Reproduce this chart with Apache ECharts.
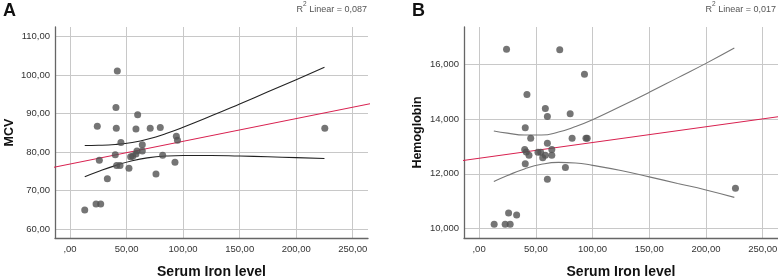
<!DOCTYPE html>
<html>
<head>
<meta charset="utf-8">
<script src="https://cdn.jsdelivr.net/npm/echarts@6/dist/echarts.min.js"></script>
<style>
  html, body { margin: 0; padding: 0; background: #fff; }
  #chart { width: 778px; height: 277px; }
</style>
</head>
<body>
<div id="chart"></div>
<script>
// Panel A: Serum iron vs MCV
const ironA = [41.8, 40.6, 59.8, 24.1, 40.9, 58.3, 70.9, 79.8, 225.3, 94.0, 95.0, 45.0, 63.9, 40.0, 25.9,
               53.6, 55.4, 58.3, 59.2, 63.9, 41.2, 44.2, 52.1, 33.0, 76.0, 81.9, 92.8, 13.0, 23.0, 27.1];
const mcv = [101.1, 91.6, 89.7, 86.7, 86.2, 86.0, 86.2, 86.4, 86.2, 84.1, 83.1, 82.5, 81.9, 79.3, 77.9,
             78.8, 78.9, 79.5, 80.3, 80.3, 76.5, 76.5, 75.8, 73.1, 74.3, 79.2, 77.4, 64.95, 66.5, 66.5];

// Panel B: Serum iron vs Hemoglobin
const ironB = [24.2, 71.1, 92.9, 42.2, 58.4, 60.2, 80.3, 40.7, 45.5, 82.0, 94.2, 95.3, 60.2, 40.2, 41.6, 44.0,
               51.9, 54.3, 64.1, 64.1, 58.4, 56.1, 40.7, 76.1, 60.2, 226.0, 26.0, 33.1, 13.3, 23.0, 27.4];
const hgb = [16.56, 16.54, 15.64, 14.9, 14.39, 14.1, 14.2, 13.69, 13.3, 13.3, 13.3, 13.3, 13.12, 12.89, 12.8, 12.68,
             12.79, 12.79, 12.89, 12.68, 12.68, 12.59, 12.37, 12.23, 11.8, 11.47, 10.57, 10.5, 10.16, 10.16, 10.16];

// fit lines (end points) and mean confidence bands
const fitX = [-20, 270];
const fitA = [75.72, 92.83];
const fitB = [12.455, 14.128];

const bandX = [13, 25, 40, 55, 70, 85, 100, 125, 150, 175, 200, 225];
const upperA = [81.73, 81.78, 82.0, 82.52, 83.48, 84.85, 86.46, 89.42, 92.51, 95.66, 98.83, 102.03];
const lowerA = [73.61, 74.98, 76.5, 77.78, 78.58, 78.99, 79.14, 79.14, 78.99, 78.8, 78.57, 78.33];
const upperB = [13.57, 13.49, 13.42, 13.42, 13.53, 13.73, 13.98, 14.47, 14.98, 15.51, 16.04, 16.60];
const lowerB = [11.72, 11.94, 12.18, 12.35, 12.42, 12.40, 12.31, 12.12, 11.89, 11.65, 11.41, 11.14];

const xTicks = [0, 50, 100, 150, 200, 250];
const yTicksA = [60, 70, 80, 90, 100, 110];
const yTicksB = [10, 12, 14, 16];

const zip = (xs, ys) => xs.map((x, i) => [x, ys[i]]);
const comma = d => v => (v === 0 ? ',' + '0'.repeat(d) : v.toFixed(d).replace('.', ','));

const FONT = '"Liberation Sans", Arial, sans-serif';

function xAxis(gridIndex) {
    return {
        type: 'value', gridIndex: gridIndex, min: -13.3, max: 263.5,
        name: 'Serum Iron level', nameLocation: 'middle', nameGap: 27,
        nameTextStyle: { fontFamily: FONT, fontWeight: 'bold', fontSize: 14, color: '#111' },
        axisLine: { show: true, onZero: false, lineStyle: { color: '#666', width: 1.3 } },
        axisTick: { show: false, customValues: xTicks },
        axisLabel: { customValues: xTicks, formatter: comma(2), fontFamily: FONT, fontSize: 9.5, color: '#333', margin: 6,
                     showMinLabel: true, showMaxLabel: true },
        splitLine: { show: true, lineStyle: { color: '#c8c8c8', width: 1 } }
    };
}

function yAxis(gridIndex, name, min, max, ticks, dec, gap) {
    return {
        type: 'value', gridIndex: gridIndex, min: min, max: max,
        name: name, nameLocation: 'middle', nameGap: gap,
        nameTextStyle: { fontFamily: FONT, fontWeight: 'bold', fontSize: 12.5, color: '#111' },
        axisLine: { show: true, onZero: false, lineStyle: { color: '#666', width: 1.3 } },
        axisTick: { show: false, customValues: ticks },
        axisLabel: { customValues: ticks, formatter: comma(dec), fontFamily: FONT, fontSize: 9.5, color: '#333', margin: 5 },
        splitLine: { show: true, lineStyle: { color: '#c8c8c8', width: 1 } }
    };
}

function scatter(i, xs, ys) {
    return { type: 'scatter', xAxisIndex: i, yAxisIndex: i, data: zip(xs, ys), symbolSize: 7,
             itemStyle: { color: '#535353' }, z: 5 };
}
function line(i, xs, ys, color, width) {
    return { type: 'line', xAxisIndex: i, yAxisIndex: i, data: zip(xs, ys), showSymbol: false, symbol: 'none',
             smooth: true, clip: true, lineStyle: { color: color, width: width }, z: 4 };
}

const chart = echarts.init(document.getElementById('chart'), null, { renderer: 'canvas' });

chart.setOption({
    animation: false,
    grid: [
        { left: 55, top: 27, width: 313, height: 211, outerBoundsMode: 'none', containLabel: false },
        { left: 464, top: 27, width: 314, height: 211, outerBoundsMode: 'none', containLabel: false }
    ],
    graphic: [
        { type: 'text', left: 3, top: 2, style: { text: 'A', font: 'bold 18px ' + FONT, fill: '#111' } },
        { type: 'text', left: 412, top: 2, style: { text: 'B', font: 'bold 18px ' + FONT, fill: '#111' } },
        { type: 'text', right: 411, top: 1,
          style: { text: '{n|R}{s|2}{n| Linear = 0,087}', fill: '#555',
                   rich: { n: { fontFamily: FONT, fontSize: 9, padding: [4, 0, 0, 0] }, s: { fontFamily: FONT, fontSize: 6.5, verticalAlign: 'top' } } } },
        { type: 'text', right: 2, top: 1,
          style: { text: '{n|R}{s|2}{n| Linear = 0,017}', fill: '#555',
                   rich: { n: { fontFamily: FONT, fontSize: 9, padding: [4, 0, 0, 0] }, s: { fontFamily: FONT, fontSize: 6.5, verticalAlign: 'top' } } } }
    ],
    xAxis: [xAxis(0), xAxis(1)],
    yAxis: [
        yAxis(0, 'MCV', 57.7, 112.5, yTicksA, 2, 39),
        yAxis(1, 'Hemoglobin', 9.655, 17.37, yTicksB, 3, 40)
    ],
    series: [
        line(0, fitX, fitA, '#d8204f', 1.1),
        line(0, bandX, upperA, '#222', 1.1),
        line(0, bandX, lowerA, '#222', 1.1),
        scatter(0, ironA, mcv),
        line(1, fitX, fitB, '#d8204f', 1.1),
        line(1, bandX, upperB, '#777', 1.1),
        line(1, bandX, lowerB, '#777', 1.1),
        scatter(1, ironB, hgb)
    ]
});
</script>
</body>
</html>
